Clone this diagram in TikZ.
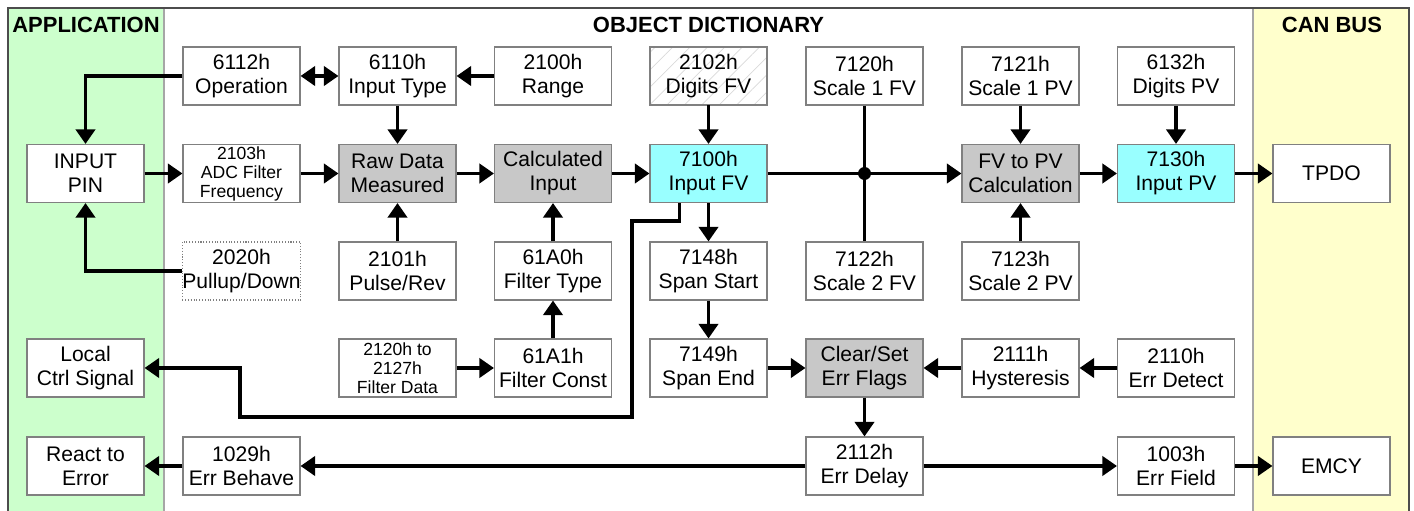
\documentclass[tikz,border=0pt]{standalone}
\usepackage{fontspec}
\setmainfont{Liberation Sans}
\usetikzlibrary{arrows.meta,patterns.meta}

\definecolor{appgreen}{HTML}{CCFFCC}
\definecolor{canyellow}{HTML}{FFFFCC}
\definecolor{fvcyan}{HTML}{99FFFF}
\definecolor{calcgray}{HTML}{C8C8C8}
\definecolor{boxline}{HTML}{808080}

\tikzset{
  obj/.style={draw=boxline, line width=0.6pt, fill=white, minimum width=2.34cm,
    minimum height=1.16cm, inner sep=0pt, align=center,
    font=\fontsize{12}{13.6}\selectfont},
  calc/.style={obj, fill=calcgray},
  live/.style={obj, fill=fvcyan},
  small/.style={obj, font=\fontsize{10}{10.8}\selectfont},
  title/.style={font=\fontsize{12.5}{14}\selectfont\bfseries},
  line/.style={line width=2.2pt},
  flow/.style={line, -{Triangle[length=0.29cm,width=0.38cm]}},
  both/.style={line, {Triangle[length=0.29cm,width=0.38cm]}-{Triangle[length=0.29cm,width=0.38cm]}},
}

\begin{document}
\begin{tikzpicture}
\useasboundingbox (0,0) rectangle (28.28,10.22);
% panels
\fill[appgreen] (0.16,-0.5) rectangle (3.28,10.06);
\fill[canyellow] (25.06,-0.5) rectangle (28.18,10.06);
\draw[gray!70, line width=0.6pt] (3.28,-0.5) -- (3.28,10.06) (25.06,-0.5) -- (25.06,10.06);
\draw[gray!60!black, line width=0.8pt] (0.16,-0.5) rectangle (28.18,10.06);
\node[title] at (1.72, 9.72) (tapp) {APPLICATION};
\node[title] at (14.17, 9.72) (tod) {OBJECT DICTIONARY};
\node[title] at (26.64, 9.72) (tcan) {CAN BUS};

% row 1
\node[obj] at (4.83, 8.70) (op) {6112h\\Operation};
\node[obj] at (7.95, 8.70) (type) {6110h\\Input Type};
\node[obj] at (11.06, 8.70) (range) {2100h\\Range};
\node[obj, pattern={Lines[angle=45,distance=7pt,line width=0.4pt]}, pattern color=gray!30] at (14.17, 8.70) (digfv) {2102h\\Digits FV};
\node[obj] at (17.29, 8.70) (s1fv) {7120h\\Scale 1 FV};
\node[obj] at (20.41, 8.70) (s1pv) {7121h\\Scale 1 PV};
\node[obj] at (23.52, 8.70) (digpv) {6132h\\Digits PV};

% row 2
\node[obj] at (1.71, 6.75) (pin) {INPUT\\PIN};
\node[small] at (4.83, 6.75) (adc) {2103h\\ADC Filter\\Frequency};
\node[calc] at (7.95, 6.75) (raw) {Raw Data\\Measured};
\node[calc] at (11.06, 6.75) (calcin) {Calculated\\Input};
\node[live] at (14.17, 6.75) (fvin) {7100h\\Input FV};
\node[calc] at (20.41, 6.75) (fvpv) {FV to PV\\Calculation};
\node[live] at (23.52, 6.75) (pvin) {7130h\\Input PV};
\node[obj] at (26.63, 6.75) (tpdo) {TPDO};

% row 3
\node[obj, draw=gray, densely dotted] at (4.83, 4.80) (pull) {2020h\\Pullup/Down};
\node[obj] at (7.95, 4.80) (pulse) {2101h\\Pulse/Rev};
\node[obj] at (11.06, 4.80) (ftype) {61A0h\\Filter Type};
\node[obj] at (14.17, 4.80) (spans) {7148h\\Span Start};
\node[obj] at (17.29, 4.80) (s2fv) {7122h\\Scale 2 FV};
\node[obj] at (20.41, 4.80) (s2pv) {7123h\\Scale 2 PV};

% row 4
\node[obj] at (1.71, 2.86) (local) {Local\\Ctrl Signal};
\node[small] at (7.95, 2.86) (fdata) {2120h to\\2127h\\Filter Data};
\node[obj] at (11.06, 2.86) (fconst) {61A1h\\Filter Const};
\node[obj] at (14.17, 2.86) (spane) {7149h\\Span End};
\node[calc] at (17.29, 2.86) (flags) {Clear/Set\\Err Flags};
\node[obj] at (20.41, 2.86) (hyst) {2111h\\Hysteresis};
\node[obj] at (23.52, 2.86) (detect) {2110h\\Err Detect};

% row 5
\node[obj] at (1.71, 0.90) (react) {React to\\Error};
\node[obj] at (4.83, 0.90) (behave) {1029h\\Err Behave};
\node[obj] at (17.29, 0.90) (delay) {2112h\\Err Delay};
\node[obj] at (23.52, 0.90) (field) {1003h\\Err Field};
\node[obj] at (26.63, 0.90) (emcy) {EMCY};

\coordinate (bend1) at (12.64, 5.80);
\coordinate (bend2) at (4.80, 1.88);

% input side
\draw[both] (op) -- (type);
\draw[flow] (range) -- (type);
\draw[flow] (op.west) -| (pin.north);
\draw[flow] (pull.west) -| (pin.south);
\draw[flow] (pin) -- (adc);
\draw[flow] (adc) -- (raw);
\draw[flow] (type) -- (raw);
\draw[flow] (pulse) -- (raw);
\draw[flow] (raw) -- (calcin);
\draw[flow] (fdata) -- (fconst);
\draw[flow] (fconst) -- (ftype);
\draw[flow] (ftype) -- (calcin);
\draw[flow] (calcin) -- (fvin);
\draw[flow] (digfv) -- (fvin);
% scaling, the FV scale line crosses the main flow
\draw[line] (s1fv) -- (s2fv);
\fill (s1fv |- fvin) circle (0.13);
\draw[flow] (fvin) -- (fvpv);
\draw[flow] (s1pv) -- (fvpv);
\draw[flow] (s2pv) -- (fvpv);
\draw[flow] (fvpv) -- (pvin);
\draw[flow] (digpv) -- (pvin);
\draw[flow] (pvin) -- (tpdo);
% local control and error handling
\draw[flow] ([xshift=0.6cm]fvin.south west) |- (bend1) |- (bend2) |- (local.east);
\draw[flow] (fvin) -- (spans);
\draw[flow] (spans) -- (spane);
\draw[flow] (spane) -- (flags);
\draw[flow] (detect) -- (hyst);
\draw[flow] (hyst) -- (flags);
\draw[flow] (flags) -- (delay);
\draw[flow] (delay) -- (behave);
\draw[flow] (behave) -- (react);
\draw[flow] (delay) -- (field);
\draw[flow] (field) -- (emcy);
\end{tikzpicture}
\end{document}
